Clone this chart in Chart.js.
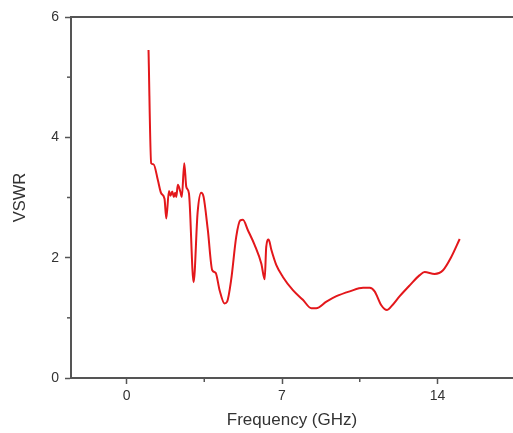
<!DOCTYPE html>
<html>
<head>
<meta charset="utf-8">
<script src="https://cdn.jsdelivr.net/npm/chart.js@4.4.1/dist/chart.umd.min.js"></script>
<style>
  html, body { margin: 0; padding: 0; background: #fff; }
  #wrap { width: 513px; height: 433px; }
</style>
</head>
<body>
<div id="wrap"><canvas id="vswrChart" width="513" height="433"></canvas></div>
<script>
// Fréquence (GHz) et VSWR
const freq = [0.99, 1.11, 1.22, 1.41, 1.56, 1.71, 1.79, 1.91, 1.98, 2.06, 2.13, 2.19, 2.24, 2.31, 2.42, 2.49,
  2.60, 2.69, 2.81, 3.02, 3.20, 3.36, 3.47, 3.66, 3.86, 4.01, 4.19, 4.41, 4.53, 4.71, 4.94, 5.12, 5.24, 5.46,
  5.77, 6.07, 6.22, 6.29, 6.40, 6.52, 6.74, 7.04, 7.49, 7.94, 8.32, 8.54, 9.00, 9.45, 10.05, 10.65, 10.95,
  11.17, 11.47, 11.73, 11.92, 12.30, 12.75, 13.20, 13.42, 13.87, 14.25, 14.62, 15.00];
const vswr = [5.45, 3.57, 3.55, 3.29, 3.07, 2.98, 2.65, 3.11, 3.03, 3.10, 3.01, 3.08, 3.01, 3.21, 3.10, 3.01,
  3.57, 3.18, 3.07, 1.59, 2.75, 3.08, 3.01, 2.46, 1.79, 1.75, 1.46, 1.24, 1.27, 1.63, 2.35, 2.62, 2.63, 2.46,
  2.21, 1.90, 1.64, 2.18, 2.30, 2.13, 1.88, 1.68, 1.46, 1.30, 1.16, 1.16, 1.27, 1.36, 1.44, 1.50, 1.50,
  1.44, 1.21, 1.13, 1.19, 1.36, 1.54, 1.71, 1.76, 1.73, 1.79, 2.01, 2.31];

const xTicks = [0, 3.5, 7, 10.5, 14];
const xLabels = [0, 7, 14];
const yTicks = [0, 1, 2, 3, 4, 5, 6];
const yLabels = [0, 2, 4, 6];

const axisColor = '#555';
const textColor = '#333';

// petits traits pour les graduations secondaires
const minorTicks = {
    id: 'minorTicks',
    afterDraw(chart) {
        const ctx = chart.ctx;
        const x = chart.scales.x, y = chart.scales.y;
        ctx.save();
        ctx.strokeStyle = axisColor;
        ctx.lineWidth = 1.5;
        xTicks.filter(v => !xLabels.includes(v)).forEach(v => {
            const px = x.getPixelForValue(v);
            ctx.beginPath();
            ctx.moveTo(px, y.bottom);
            ctx.lineTo(px, y.bottom + 4);
            ctx.stroke();
        });
        yTicks.filter(v => !yLabels.includes(v)).forEach(v => {
            const py = y.getPixelForValue(v);
            ctx.beginPath();
            ctx.moveTo(x.left, py);
            ctx.lineTo(x.left - 4, py);
            ctx.stroke();
        });
        ctx.restore();
    }
};

const ctx = document.getElementById('vswrChart').getContext('2d');
new Chart(ctx, {
    type: 'line',
    data: {
        datasets: [{
            label: 'VSWR',
            data: freq.map((f, i) => ({ x: f, y: vswr[i] })),
            borderColor: '#e3171b',
            borderWidth: 2,
            pointRadius: 0,
            fill: false,
            cubicInterpolationMode: 'monotone'
        }]
    },
    options: {
        responsive: false,
        animation: false,
        layout: { padding: 0 },
        plugins: { legend: { display: false }, tooltip: { enabled: false } },
        scales: {
            x: {
                type: 'linear',
                position: 'bottom',
                min: -2.5,
                max: 17.4,
                afterBuildTicks: s => { s.ticks = xTicks.map(v => ({ value: v })); },
                afterFit: s => { s.height = 55; },
                ticks: {
                    autoSkip: false,
                    maxRotation: 0,
                    padding: 4,
                    color: textColor,
                    font: { family: 'Liberation Sans, Arial, sans-serif', size: 14 },
                    callback: v => xLabels.includes(v) ? String(v) : ''
                },
                grid: {
                    drawOnChartArea: false,
                    tickLength: 6,
                    tickWidth: 1.5,
                    tickColor: c => (c.tick && xLabels.includes(c.tick.value)) ? axisColor : 'rgba(0,0,0,0)'
                },
                border: { color: axisColor, width: 2 },
                title: {
                    display: true,
                    text: 'Frequency (GHz)',
                    color: textColor,
                    font: { family: 'Liberation Sans, Arial, sans-serif', size: 17 },
                    padding: { top: 0, bottom: 2 }
                }
            },
            xTop: {
                type: 'linear',
                position: 'top',
                min: -2.5,
                max: 17.4,
                afterFit: s => { s.height = 17; },
                ticks: { display: false },
                grid: { display: false },
                border: { color: axisColor, width: 2 }
            },
            y: {
                min: 0,
                max: 6,
                afterBuildTicks: s => { s.ticks = yTicks.map(v => ({ value: v })); },
                afterFit: s => { s.width = 71; },
                ticks: {
                    autoSkip: false,
                    padding: 6,
                    color: textColor,
                    font: { family: 'Liberation Sans, Arial, sans-serif', size: 14 },
                    callback: v => yLabels.includes(v) ? String(v) : ''
                },
                grid: {
                    drawOnChartArea: false,
                    tickLength: 6,
                    tickWidth: 1.5,
                    tickColor: c => (c.tick && yLabels.includes(c.tick.value)) ? axisColor : 'rgba(0,0,0,0)'
                },
                border: { color: axisColor, width: 2 },
                title: {
                    display: true,
                    text: 'VSWR',
                    color: textColor,
                    font: { family: 'Liberation Sans, Arial, sans-serif', size: 16.5 },
                    padding: { top: 11, bottom: 0 }
                }
            }
        }
    },
    plugins: [minorTicks]
});
</script>
</body>
</html>
